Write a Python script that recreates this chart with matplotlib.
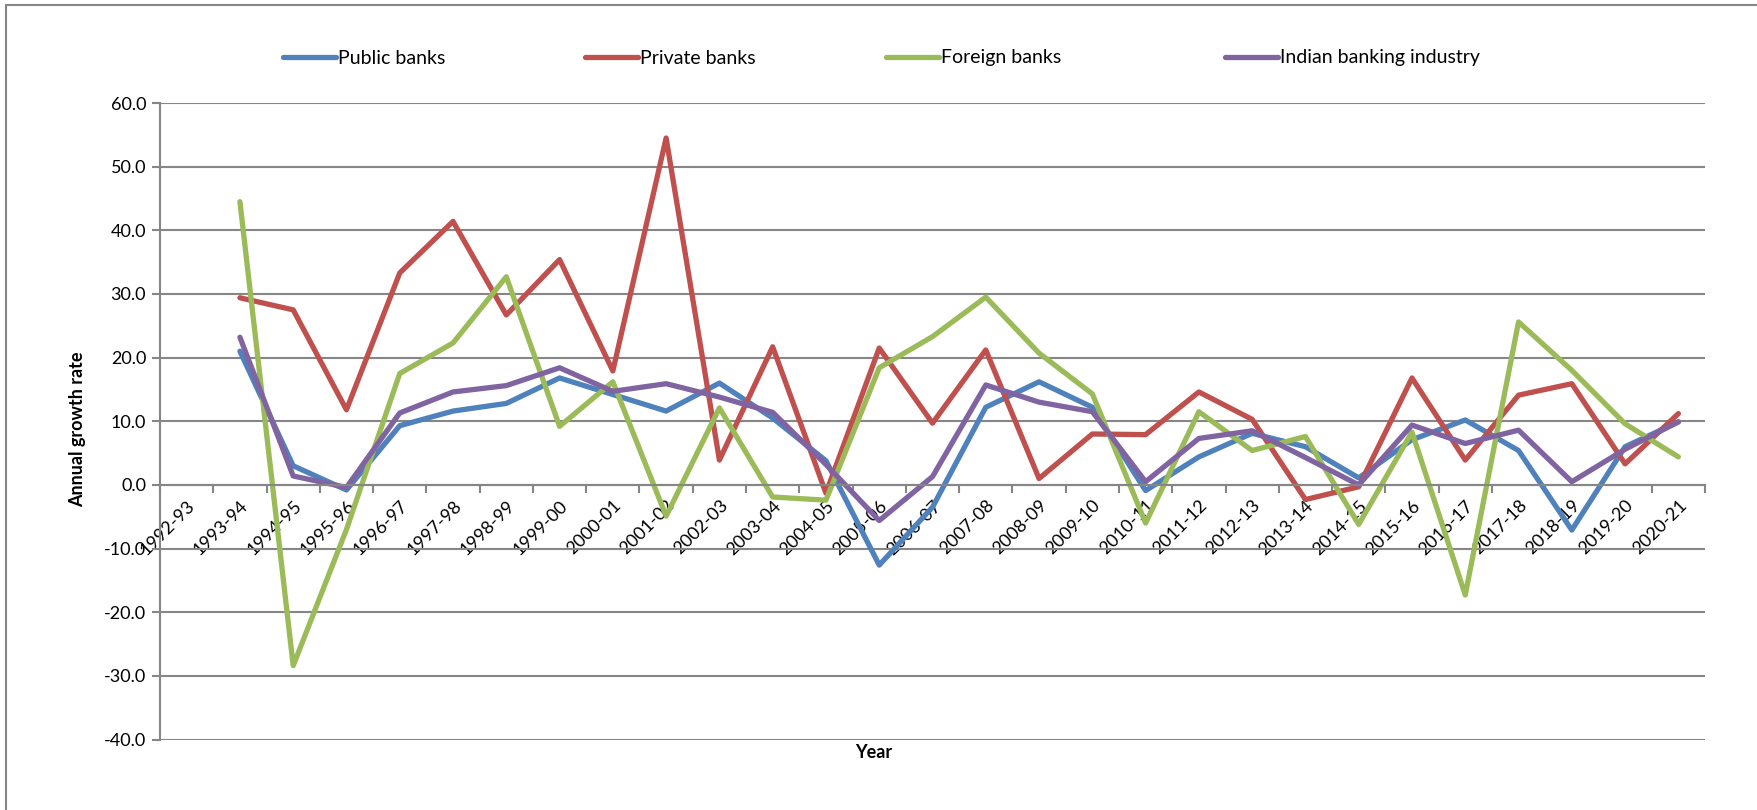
import numpy as np
import matplotlib.pyplot as plt
from matplotlib.lines import Line2D

plt.rcParams['font.family'] = ['Lato', 'DejaVu Sans']

years = ['1992-93', '1993-94', '1994-95', '1995-96', '1996-97', '1997-98', '1998-99',
         '1999-00', '2000-01', '2001-02', '2002-03', '2003-04', '2004-05', '2005-06',
         '2006-07', '2007-08', '2008-09', '2009-10', '2010-11', '2011-12', '2012-13',
         '2013-14', '2014-15', '2015-16', '2016-17', '2017-18', '2018-19', '2019-20',
         '2020-21']

# growth rates from 1993-94 onwards (1992-93 is the base year, no value)
public_banks = [21.0, 3.0, -0.8, 9.3, 11.6, 12.8, 16.8, 14.2, 11.6, 16.0, 10.5, 3.8,
                -12.6, -3.5, 12.2, 16.2, 12.2, -0.9, 4.4, 8.1, 6.0, 1.1, 7.1, 10.2,
                5.4, -7.1, 6.0, 9.9]
private_banks = [29.4, 27.5, 11.8, 33.3, 41.4, 26.7, 35.4, 17.9, 54.5, 3.9, 21.7, -1.3,
                 21.5, 9.7, 21.2, 1.0, 8.0, 7.9, 14.6, 10.3, -2.3, -0.3, 16.8, 3.9,
                 14.1, 15.9, 3.3, 11.2]
foreign_banks = [44.5, -28.4, -7.0, 17.5, 22.3, 32.7, 9.2, 16.2, -4.9, 12.1, -1.9, -2.4,
                 18.4, 23.3, 29.5, 20.7, 14.3, -6.0, 11.5, 5.4, 7.6, -6.2, 8.3, -17.3,
                 25.6, 18.0, 9.6, 4.4]
indian_industry = [23.2, 1.4, -0.4, 11.3, 14.6, 15.6, 18.4, 14.7, 15.9, 13.8, 11.4, 3.2,
                   -5.6, 1.3, 15.7, 13.0, 11.5, 0.5, 7.3, 8.5, 4.3, 0.0, 9.4, 6.5,
                   8.6, 0.5, 5.6, 9.9]

series = [('Public banks', public_banks, '#4F81BD'),
          ('Private banks', private_banks, '#C0504D'),
          ('Foreign banks', foreign_banks, '#9BBB59'),
          ('Indian banking industry', indian_industry, '#8064A2')]

W, H = 1758, 810
fig = plt.figure(figsize=(W / 100, H / 100), dpi=100)
ax = fig.add_axes([160 / W, 1 - 739.5 / H, 1545 / W, 636.5 / H])

grid_col = '#868686'
x = np.arange(1, len(years))
lines = []
for name, vals, col in series:
    ln, = ax.plot(x, vals, color=col, lw=3.8, label=name,
                  solid_capstyle='round', solid_joinstyle='round')
    lines.append(ln)

ax.set_xlim(-0.5, len(years) - 0.5)
ax.set_ylim(-40, 60)
ax.set_yticks(np.arange(-40, 61, 10))
ax.set_yticklabels([f'{v:.1f}' for v in np.arange(-40, 61, 10)])
ax.yaxis.grid(True, color=grid_col, lw=1.5)
ax.set_axisbelow(True)

# category axis sits on the zero line; ticks between categories, labels at centres
ax.spines['bottom'].set_position(('data', 0))
for s in ['top', 'right']:
    ax.spines[s].set_visible(False)
for s in ['left', 'bottom']:
    ax.spines[s].set_color(grid_col)
    ax.spines[s].set_linewidth(1.5)
ax.set_xticks(np.arange(-0.5, len(years), 1.0))
ax.set_xticklabels([])
ax.set_xticks(np.arange(len(years)), minor=True)
ax.set_xticklabels(years, minor=True, rotation=45, ha='right', va='top',
                   rotation_mode='anchor', fontsize=13)
ax.tick_params(axis='x', which='major', direction='out', length=6, width=1.5,
               color=grid_col)
ax.tick_params(axis='x', which='minor', length=0, pad=9)
ax.tick_params(axis='y', direction='out', length=6, width=1.5, color=grid_col,
               labelsize=13, pad=4)

ax.set_ylabel('Annual growth rate', fontsize=13, fontweight='bold')
ax.yaxis.set_label_coords(-0.048, 0.487)
ax.set_xlabel('Year', fontsize=13, fontweight='bold', va='center')
ax.xaxis.set_label_coords(0.462, -0.021)

# legend entries spread across the top
legend_x = [283, 585, 886, 1225]
for ln, lx in zip(lines, legend_x):
    fig.legend(handles=[ln], loc='center left',
               bbox_to_anchor=(lx / W, 1 - 58 / H), frameon=False,
               fontsize=14, handlelength=2.75, handletextpad=0.1,
               borderpad=0, borderaxespad=0)

# outer chart border
fig.add_artist(Line2D([6 / W, 6 / W], [0, 1 - 5 / H], color=grid_col, lw=1.5))
fig.add_artist(Line2D([6 / W, 1], [1 - 5 / H, 1 - 5 / H], color=grid_col, lw=1.5))

fig.savefig('out.png', dpi=100, facecolor='white')
